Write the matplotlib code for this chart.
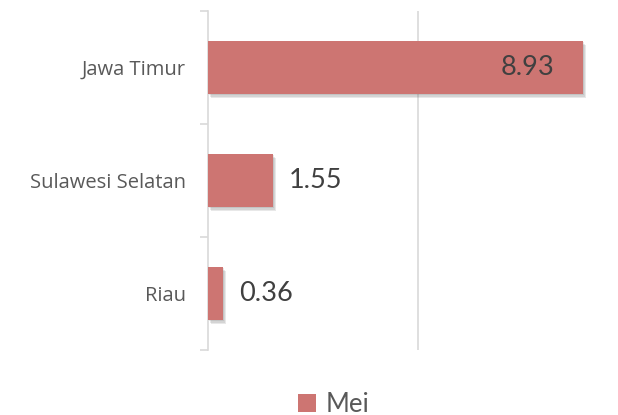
#!/usr/bin/env python3
"""Horizontal bar chart: Mei values by province."""

import matplotlib
matplotlib.use("Agg")
import matplotlib.pyplot as plt
import matplotlib.patheffects as pe
from matplotlib.patches import Patch

provinces = ["Riau", "Sulawesi Selatan", "Jawa Timur"]
mei_values = [0.36, 1.55, 8.93]
series_name = "Mei"

BAR_COLOR = "#CD7572"
GRID_COLOR = "#D9D9D9"
TEXT_COLOR = "#404040"
LABEL_COLOR = "#595959"

plt.rcParams["font.family"] = ["Lato", "DejaVu Sans"]

fig = plt.figure(figsize=(6.18, 4.15), dpi=100)
ax = fig.add_axes([208 / 618, 1 - 350 / 415, 420 / 618, 339 / 415])

pos = list(range(len(provinces)))
# soft drop shadow built from a few faint offset copies
shadow = [pe.SimplePatchShadow(offset=(dx, dy), shadow_rgbFace="#606060", alpha=0.14)
          for dx, dy in [(0.8, -1.0), (1.3, -2.0), (1.8, -3.0)]] + [pe.Normal()]
bars = ax.barh(pos, mei_values, height=0.47, color=BAR_COLOR, zorder=3)
for b in bars:
    b.set_path_effects(shadow)

ax.set_xlim(0, 10)
ax.set_ylim(-0.5, len(provinces) - 0.5)
ax.set_xticks([5, 10])
ax.xaxis.grid(True, color=GRID_COLOR, linewidth=1.2, zorder=0)
ax.tick_params(axis="x", length=0, labelbottom=False)

# category labels between the boundary ticks
ax.set_yticks(pos)
ax.set_yticklabels(provinces, fontsize=14.5, color=LABEL_COLOR, family=["Open Sans", "DejaVu Sans"])
ax.tick_params(axis="y", which="major", length=0, pad=16)
ax.set_yticks([p - 0.5 for p in pos] + [len(pos) - 0.5], minor=True)
ax.tick_params(axis="y", which="minor", length=6, width=1.2, color=GRID_COLOR)

for s in ["top", "right", "bottom"]:
    ax.spines[s].set_visible(False)
ax.spines["left"].set_color(GRID_COLOR)
ax.spines["left"].set_linewidth(1.2)

for b, v in zip(bars, mei_values):
    y = b.get_y() + b.get_height() / 2
    if v > 5:
        ax.annotate(f"{v:.2f}", (v, y), xytext=(-21, 0), textcoords="offset points",
                    ha="right", va="center", fontsize=19.5, color=TEXT_COLOR, zorder=5)
    else:
        ax.annotate(f"{v:.2f}", (v, y), xytext=(11.5, 0), textcoords="offset points",
                    ha="left", va="center", fontsize=19.5, color=TEXT_COLOR, zorder=5)

fig.legend(handles=[Patch(facecolor=BAR_COLOR, label=series_name)],
           loc="center", bbox_to_anchor=(0.54, 1 - 404 / 415), frameon=False,
           fontsize=18.5, handlelength=0.7, handleheight=0.7, handletextpad=0.35,
           labelcolor=LABEL_COLOR)

fig.savefig("out.png", dpi=100)
